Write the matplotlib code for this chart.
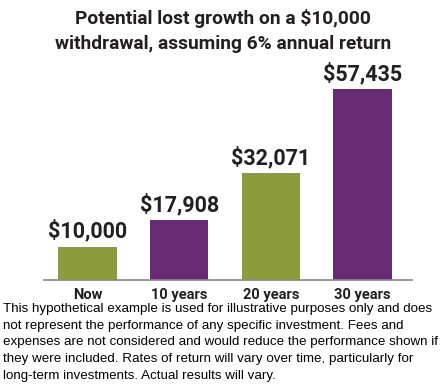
import matplotlib.pyplot as plt

# Chart data
categories = ["Now", "10 years", "20 years", "30 years"]
values = [10000, 17908, 32071, 57435]
labels = ["$10,000", "$17,908", "$32,071", "$57,435"]
colors = ["#8C9B3B", "#682C75", "#8C9B3B", "#682C75"]

title = "Potential lost growth on a $10,000\nwithdrawal, assuming 6% annual return"
footnote = ("This hypothetical example is used for illustrative purposes only and does\n"
            "not represent the performance of any specific investment. Fees and\n"
            "expenses are not considered and would reduce the performance shown if\n"
            "they were included. Rates of return will vary over time, particularly for\n"
            "long-term investments. Actual results will vary.")

fig = plt.figure(figsize=(4.41, 3.85), dpi=100)
ax = fig.add_axes([44 / 441, 1 - 280 / 385, 368 / 441, 220 / 385])

x = range(len(categories))
ax.bar(x, values, width=0.635, color=colors)
for i, v in enumerate(values):
    ax.text(i, v + 1200, labels[i], ha="center", va="bottom",
            fontsize=15.5, fontweight="bold", family="Roboto", color="#231F20")

ax.set_xlim(-0.475, 3.54)
ax.set_ylim(0, 57435 * 220 / 191)
ax.set_xticks(list(x))
ax.set_xticklabels(categories, fontsize=10.5, fontweight="bold", family="Roboto", color="#231F20")
ax.tick_params(axis="x", length=0, pad=6)
ax.set_yticks([])
for s in ["top", "right", "left"]:
    ax.spines[s].set_visible(False)
ax.spines["bottom"].set_color("#888888")
ax.spines["bottom"].set_linewidth(1.2)

fig.text(0.505, 1 - 31 / 385, title, ha="center", va="center", fontsize=13.8,
         fontweight="bold", family="Roboto", color="#231F20", linespacing=1.55)

fig.text(3 / 441, 1 - 303 / 385, footnote, ha="left", va="top", fontsize=9.65,
         family="Liberation Sans", color="#000000", linespacing=1.52)

fig.savefig("out.png", dpi=100)
